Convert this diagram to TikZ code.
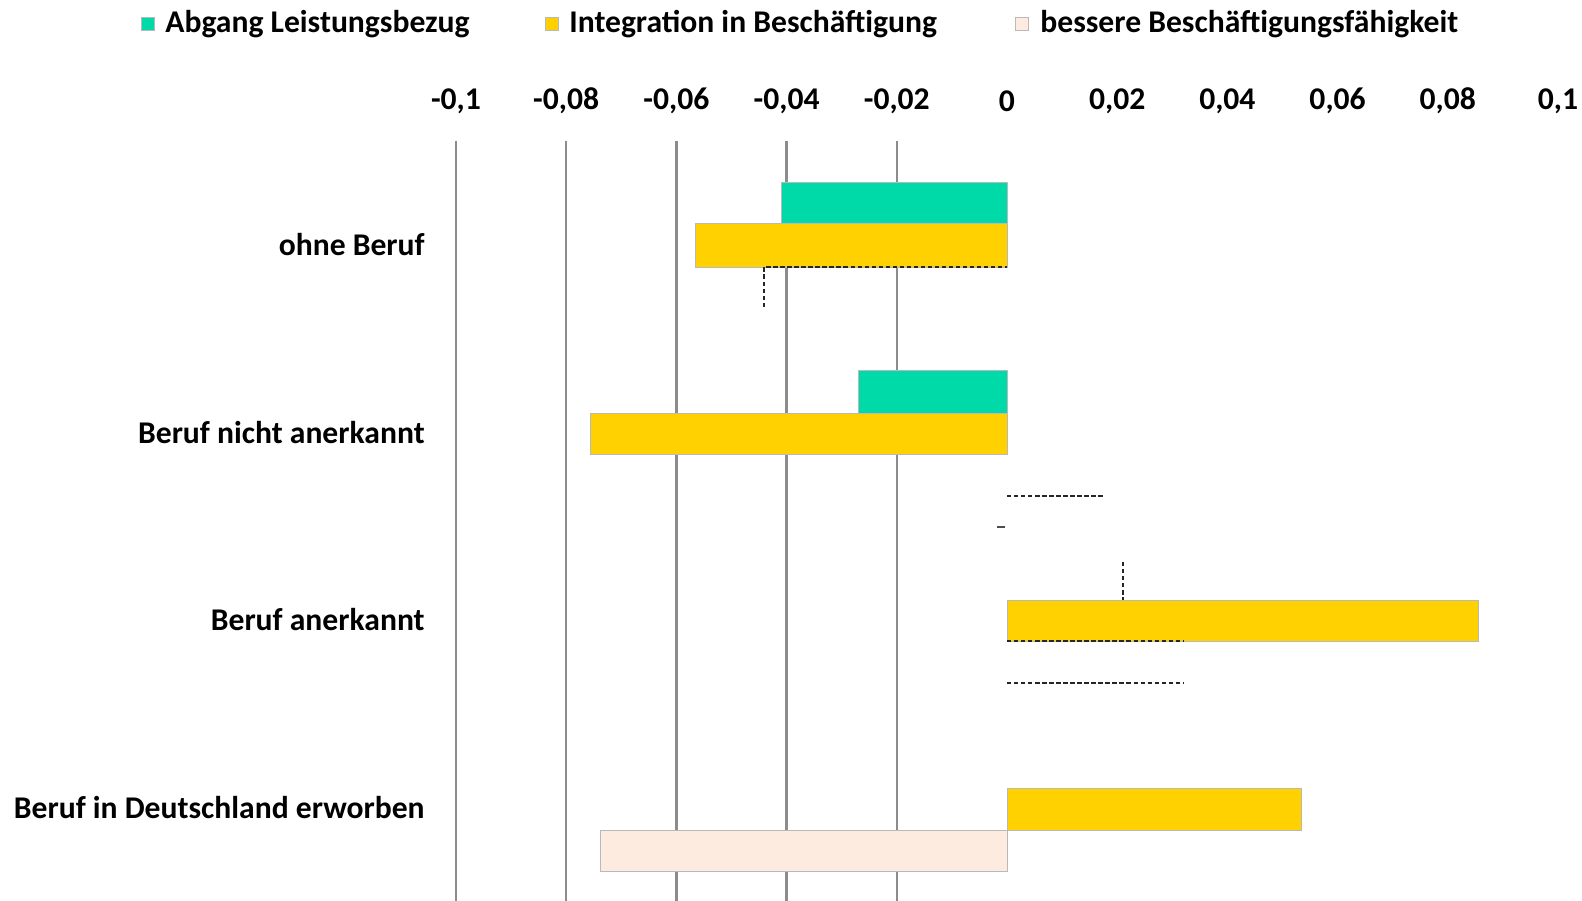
\documentclass[tikz,border=0pt]{standalone}
\usepackage{fontspec}
\setmainfont{Carlito}
\usetikzlibrary{calc}
\definecolor{abgang}{HTML}{00D9A8}
\definecolor{integ}{HTML}{FFD100}
\definecolor{besser}{HTML}{FDEBDF}
\definecolor{gridgray}{HTML}{8C8C8C}
\tikzset{
  bar/.style={draw=gray!55, line width=0.45pt},
  errdash/.style={draw=black!85, line width=0.9pt, dash pattern=on 2.5pt off 1.5pt},
  lbl/.style={anchor=east, inner sep=0pt, font=\bfseries\fontsize{18}{21}\selectfont},
  tick/.style={font=\bfseries\fontsize{18}{21}\selectfont},
  leg/.style={anchor=west, font=\bfseries\fontsize{18}{21}\selectfont, inner sep=0pt},
  key/.style={bar, minimum size=0.26cm, inner sep=0pt}
}
\begin{document}
\begin{tikzpicture}[x={(0.02cm,0)}, y={(0,-0.02cm)}]
    \useasboundingbox (0,0) rectangle (1582,901);
    \coordinate (z) at (1007,0);
    \foreach \v/\t in {-0.1/{-0,1},-0.08/{-0,08},-0.06/{-0,06},-0.04/{-0,04},-0.02/{-0,02},0/0,0.02/{0,02},0.04/{0,04},0.06/{0,06},0.08/{0,08},0.1/{0,1}}{
      \node[tick] (t\v) at ($(z)+({5510*\v},101)$) {\t};
    }
    \foreach \v in {-0.1,-0.08,-0.06,-0.04,-0.02}{
      \draw[gridgray, line width=1.4pt] ($(z)+({5510*\v},141)$) -- ($(z)+({5510*\v},901)$);
    }
    \draw[bar, fill=abgang] (781,182) rectangle (1007,223);
    \draw[bar, fill=integ] (695,223) rectangle (1007,267);
    \draw[bar, fill=abgang] (858,370) rectangle (1007,413);
    \draw[bar, fill=integ] (590,413) rectangle (1007,454);
    \draw[bar, fill=integ] (1007,600) rectangle (1478,641);
    \draw[bar, fill=integ] (1007,788) rectangle (1301,830);
    \draw[bar, fill=besser] (600,830) rectangle (1007,871);
    \draw[errdash] (764,307) -- (764,267) -- (1007,267);
    \draw[errdash] (1007,496) -- (1105,496);
    \draw[black!70, line width=0.9pt] (997,527) -- (1005,527);
    \draw[errdash] (1123,562) -- (1123,600);
    \draw[errdash] (1007,641) -- (1183,641);
    \draw[errdash] (1007,683) -- (1183,683);
    \node[lbl] (ohne) at (425,245) {ohne Beruf};
    \node[lbl] (nicht) at (425,433) {Beruf nicht anerkannt};
    \node[lbl] (aner) at (425,620) {Beruf anerkannt};
    \node[lbl] (dtl) at (425,808) {Beruf in Deutschland erworben};
    \node[key, fill=abgang] (k1) at (148,24) {};
    \node[leg] (l1) at (165,24) {Abgang Leistungsbezug};
    \node[key, fill=integ] (k2) at (552,24) {};
    \node[leg] (l2) at (569,24) {Integration in Beschäftigung};
    \node[key, fill=besser] (k3) at (1022,24) {};
    \node[leg] (l3) at (1040,24) {bessere Beschäftigungsfähigkeit};
  \end{tikzpicture}
\end{document}
